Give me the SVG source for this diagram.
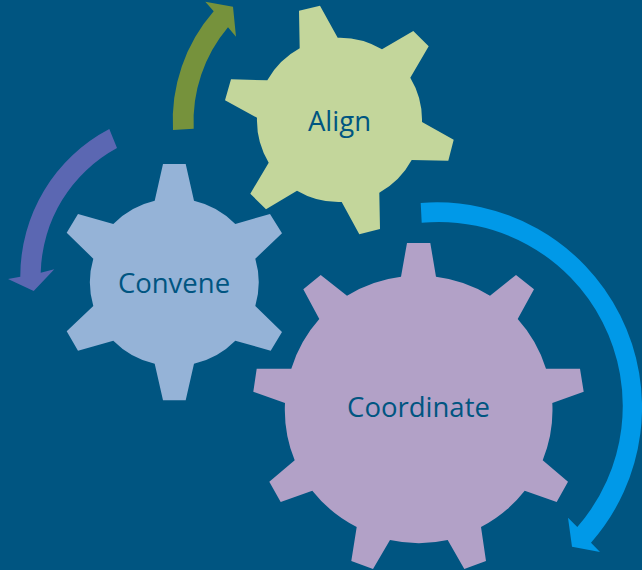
<svg xmlns="http://www.w3.org/2000/svg" width="642" height="570" viewBox="0 0 642 570">
<style>
text{font-family:"Open Sans","Noto Sans",sans-serif;font-size:27.5px;fill:#005581;text-anchor:middle}
</style>
<rect width="642" height="570" fill="#005581"/>
<g id="connectors">
<path id="arrow-green" fill="#76923C" d="M173 130A166 166 0 0 1 213.7 11.3L205.3 1.7L233 6.7L236 36.7L228 27.3A146 146 0 0 0 193.7 128.7Z"/>
<path id="arrow-violet" fill="#5B67B2" d="M109.3 129A166 166 0 0 0 20.3 276.7L8 279L33.7 291L54.3 269.3L40.7 272.7A146 146 0 0 1 117 148Z"/>
<path id="arrow-blue" fill="#0099E8" d="M420.7 203A205 205 0 0 1 591 542.7L600 552L572 546.7L568 517.7L577.3 527A184 184 0 0 0 421.7 222.7Z"/>
</g>
<g id="node-align">
<path fill="#C3D69B" d="M299 10.7L320 5.7L337.7 37.7A82 82 0 0 1 382 49.3L413.3 31L428.7 46.3L410.3 77.7A82 82 0 0 1 422 122L453.7 139.7L448.3 160.7L411.7 160A82 82 0 0 1 379.3 192.7L380 229L359.3 234.3L341.7 202A82 82 0 0 1 297 190.7L266 209.3L250.3 193.7L268.7 162.7A82 82 0 0 1 257 117.7L225 100.3L231 79.3L267.3 80.3A82 82 0 0 1 299.7 48.3Z"/>
<text x="339.5" y="130.7">Align</text>
</g>
<g id="node-convene">
<path fill="#95B3D7" d="M163 164L185.7 164L194 200.7A84 84 0 0 1 235.3 224L270 214L282 233.3L255.3 258.7A84 84 0 0 1 255.3 306L282 332L270.7 350.7L235.3 340.7A84 84 0 0 1 194 363.7L185.7 400.3L163 400.3L154.7 363.7A84 84 0 0 1 113.3 340.7L78 350.7L66.7 331.3L93.3 306A84 84 0 0 1 93.3 258.7L66.7 232.7L78 214L113.3 224A84 84 0 0 1 154.7 200.7Z"/>
<text x="174" y="292.7">Convene</text>
</g>
<g id="node-coordinate">
<path fill="#B2A1C7" d="M407 243L430.3 243L436 276.7A133.5 133.5 0 0 1 490 295.7L516 275L534 289.3L517.7 319A133.5 133.5 0 0 1 546 368.7L580 368.7L583.7 391.7L552.3 403A133.5 133.5 0 0 1 542.7 460.3L568 481.7L556.7 502L524.7 490.7A133.5 133.5 0 0 1 481 527L486 561L464.3 569L447.7 540A133.5 133.5 0 0 1 390 540L373 569L351.3 561L356.7 527A133.5 133.5 0 0 1 312.3 490.7L280.7 502L269.3 481.7L294.7 460.3A133.5 133.5 0 0 1 285 403L253.3 391.7L256.7 368.7L291.3 368.7A133.5 133.5 0 0 1 319.3 319L303.3 289.3L320.7 275L347 295.7A133.5 133.5 0 0 1 401 276.7Z"/>
<text x="418.5" y="416.7">Coordinate</text>
</g>
</svg>
